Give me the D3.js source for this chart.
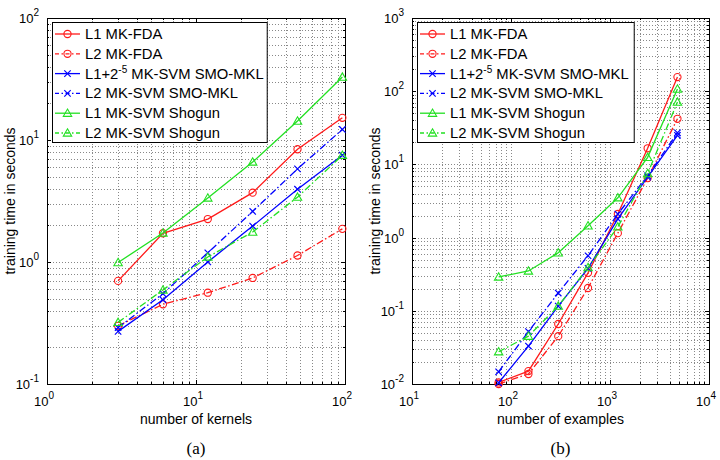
<!DOCTYPE html>
<html>
<head>
<meta charset="utf-8">
<script src="https://cdn.jsdelivr.net/npm/d3@7"></script>
<style>
  body { margin: 0; background: #fff; }
  svg { display: block; }
  text { font-family: "Liberation Sans", Arial, sans-serif; fill: #000; }
</style>
</head>
<body>
<svg id="chart" width="720" height="460"></svg>
<script>
// panel (a): training time vs number of kernels
var kernels = [3, 6, 12, 24, 48, 96];
var l1FdaA = [0.70, 1.72, 2.25, 3.70, 8.4, 15.2];
var l2FdaA = [0.30, 0.45, 0.56, 0.74, 1.13, 1.87];
var l1SmoA = [0.27, 0.49, 1.0, 1.97, 3.95, 7.5];
var l2SmoA = [0.29, 0.55, 1.19, 2.6, 5.8, 12.2];
var l1ShoA = [0.99, 1.73, 3.35, 6.6, 14.3, 32.8];
var l2ShoA = [0.32, 0.59, 1.1, 1.76, 3.4, 7.5];

// panel (b): training time vs number of examples
var examples = [75, 150, 300, 600, 1200, 2400, 4800];
var l1FdaB = [0.0105, 0.015, 0.066, 0.33, 2.1, 16.6, 156];
var l2FdaB = [0.0100, 0.0137, 0.045, 0.205, 1.15, 6.5, 42];
var l1SmoB = [0.0104, 0.033, 0.116, 0.38, 1.8, 6.7, 25];
var l2SmoB = [0.0147, 0.052, 0.175, 0.565, 2.1, 7.0, 27];
var l1ShoB = [0.29, 0.35, 0.62, 1.45, 3.5, 12.5, 107];
var l2ShoB = [0.0276, 0.045, 0.116, 0.39, 1.4, 7.5, 71];

var seriesNames = ["L1 MK-FDA", "L2 MK-FDA", "L1+2-5 MK-SVM SMO-MKL",
                   "L2 MK-SVM SMO-MKL", "L1 MK-SVM Shogun", "L2 MK-SVM Shogun"];

var RED = "#ff1a1a", BLUE = "#0000ff", GREEN = "#22e022";
var DASHDOT = "7,2.5,1.5,2.5";

// style per series: colour, dash, marker
var styles = [
  {color: RED, dash: null, marker: "o"},
  {color: RED, dash: DASHDOT, marker: "o"},
  {color: BLUE, dash: null, marker: "x"},
  {color: BLUE, dash: DASHDOT, marker: "x"},
  {color: GREEN, dash: null, marker: "^"},
  {color: GREEN, dash: DASHDOT, marker: "^"}
];

var svg = d3.select("#chart");

function drawMarker(g, type, x, y, color) {
  if (type === "o") {
    g.append("circle").attr("cx", x).attr("cy", y).attr("r", 3.6)
      .attr("fill", "none").attr("stroke", color).attr("stroke-width", 1.1);
  } else if (type === "x") {
    var s = 3.2;
    g.append("path")
      .attr("d", "M" + (x - s) + "," + (y - s) + "L" + (x + s) + "," + (y + s) +
                 "M" + (x - s) + "," + (y + s) + "L" + (x + s) + "," + (y - s))
      .attr("stroke", color).attr("stroke-width", 1.2);
  } else {
    var h = 4.2;
    g.append("path")
      .attr("d", "M" + x + "," + (y - h) + "L" + (x + h) + "," + (y + h * 0.75) +
                 "L" + (x - h) + "," + (y + h * 0.75) + "Z")
      .attr("fill", "none").attr("stroke", color).attr("stroke-width", 1.1);
  }
}

function powLabel(sel, exp) {
  sel.append("tspan").text("10");
  sel.append("tspan").attr("dy", -7).attr("font-size", 10).text(exp);
}

function drawPanel(p) {
  var x = d3.scaleLog().domain(p.xDomain).range([p.left, p.right]);
  var y = d3.scaleLog().domain(p.yDomain).range([p.bottom, p.top]);
  var g = svg.append("g");

  // minor + major ticks positions
  function allTicks(dom) {
    var t = [];
    for (var e = Math.log10(dom[0]); e < Math.log10(dom[1]); e++)
      for (var k = 1; k < 10; k++) t.push(k * Math.pow(10, e));
    t.push(dom[1]);
    return t;
  }
  var xt = allTicks(p.xDomain), yt = allTicks(p.yDomain);
  var isMajor = function(v) { return Math.abs(Math.log10(v) - Math.round(Math.log10(v))) < 1e-9; };

  // dotted grid
  g.selectAll(".gx").data(xt.filter(function(v) { return v > p.xDomain[0] && v < p.xDomain[1]; }))
    .enter().append("line")
    .attr("x1", function(d) { return Math.round(x(d)) + 0.5; })
    .attr("x2", function(d) { return Math.round(x(d)) + 0.5; })
    .attr("y1", p.top).attr("y2", p.bottom)
    .attr("stroke", "#888").attr("stroke-dasharray", "1,2");
  g.selectAll(".gy").data(yt.filter(function(v) { return v > p.yDomain[0] && v < p.yDomain[1]; }))
    .enter().append("line")
    .attr("y1", function(d) { return Math.round(y(d)) + 0.5; })
    .attr("y2", function(d) { return Math.round(y(d)) + 0.5; })
    .attr("x1", p.left).attr("x2", p.right)
    .attr("stroke", "#888").attr("stroke-dasharray", "1,2");

  // inward ticks on all four sides
  xt.forEach(function(v) {
    var len = isMajor(v) ? 4 : 2, xx = Math.round(x(v)) + 0.5;
    g.append("line").attr("x1", xx).attr("x2", xx).attr("y1", p.bottom).attr("y2", p.bottom - len).attr("stroke", "#000");
    g.append("line").attr("x1", xx).attr("x2", xx).attr("y1", p.top).attr("y2", p.top + len).attr("stroke", "#000");
  });
  yt.forEach(function(v) {
    var len = isMajor(v) ? 4 : 2, yy = Math.round(y(v)) + 0.5;
    g.append("line").attr("y1", yy).attr("y2", yy).attr("x1", p.left).attr("x2", p.left + len).attr("stroke", "#000");
    g.append("line").attr("y1", yy).attr("y2", yy).attr("x1", p.right).attr("x2", p.right - len).attr("stroke", "#000");
  });

  g.append("rect").attr("x", p.left + 0.5).attr("y", p.top + 0.5)
    .attr("width", p.right - p.left).attr("height", p.bottom - p.top)
    .attr("fill", "none").attr("stroke", "#000").attr("stroke-width", 1);

  // tick labels
  xt.filter(isMajor).forEach(function(v) {
    var t = g.append("text").attr("x", x(v) - 3).attr("y", p.bottom + 22)
      .attr("font-size", 13).attr("text-anchor", "middle");
    powLabel(t, Math.round(Math.log10(v)));
  });
  yt.filter(isMajor).forEach(function(v) {
    var t = g.append("text").attr("x", p.left - 8).attr("y", y(v) + 5)
      .attr("font-size", 13).attr("text-anchor", "end");
    powLabel(t, Math.round(Math.log10(v)));
  });

  // series
  var line = d3.line().x(function(d) { return x(d[0]); }).y(function(d) { return y(d[1]); });
  p.series.forEach(function(vals, i) {
    var st = styles[i];
    var pts = p.xs.map(function(xv, j) { return [xv, vals[j]]; });
    g.append("path").datum(pts).attr("d", line)
      .attr("fill", "none").attr("stroke", st.color).attr("stroke-width", 1.3)
      .attr("stroke-dasharray", st.dash);
    pts.forEach(function(d) { drawMarker(g, st.marker, x(d[0]), y(d[1]), st.color); });
  });

  // axis labels
  g.append("text").attr("x", (p.left + p.right) / 2).attr("y", p.bottom + 40)
    .attr("font-size", 14).attr("text-anchor", "middle").text(p.xLabel);
  g.append("text").attr("transform", "translate(" + p.yLabelX + "," + ((p.top + p.bottom) / 2) + ") rotate(-90)")
    .attr("font-size", 14).attr("text-anchor", "middle").text("training time in seconds");
  g.append("text").attr("x", (p.left + p.right) / 2).attr("y", 454)
    .attr("font-size", 17).attr("text-anchor", "middle")
    .style("font-family", "'Liberation Serif', 'Times New Roman', serif").text(p.caption);

  // legend
  var lg = g.append("g").attr("transform", "translate(" + (p.left + 5) + "," + (p.top + 4) + ")");
  var box = lg.append("rect").attr("x", 0.5).attr("y", 0.5).attr("height", 120)
    .attr("fill", "#fff").attr("stroke", "#000");
  var maxW = 0;
  seriesNames.forEach(function(name, i) {
    var st = styles[i], ry = 12 + i * 19.8;
    lg.append("line").attr("x1", 3).attr("x2", 28).attr("y1", ry).attr("y2", ry)
      .attr("stroke", st.color).attr("stroke-width", 1.3).attr("stroke-dasharray", st.dash ? "4,2.5,1.5,2.5" : null);
    drawMarker(lg, st.marker, 15.5, ry, st.color);
    var t = lg.append("text").attr("x", 33).attr("y", ry + 5).attr("font-size", 14.8);
    if (i === 2) {
      t.append("tspan").text("L1+2");
      t.append("tspan").attr("dy", -6).attr("font-size", 10).text("-5");
      t.append("tspan").attr("dy", 6).text(" MK-SVM SMO-MKL");
    } else {
      t.text(name);
    }
    maxW = Math.max(maxW, t.node().getComputedTextLength());
  });
  box.attr("width", 33 + maxW + p.legendPad);
}

drawPanel({
  left: 47, right: 345, top: 18, bottom: 384,
  xDomain: [1, 100], yDomain: [0.1, 100],
  xs: kernels, series: [l1FdaA, l2FdaA, l1SmoA, l2SmoA, l1ShoA, l2ShoA],
  xLabel: "number of kernels", caption: "(a)", yLabelX: 15, legendPad: 3
});

drawPanel({
  left: 412, right: 709, top: 18, bottom: 384,
  xDomain: [10, 10000], yDomain: [0.01, 1000],
  xs: examples, series: [l1FdaB, l2FdaB, l1SmoB, l2SmoB, l1ShoB, l2ShoB],
  xLabel: "number of examples", caption: "(b)", yLabelX: 380, legendPad: 5
});
</script>
</body>
</html>
